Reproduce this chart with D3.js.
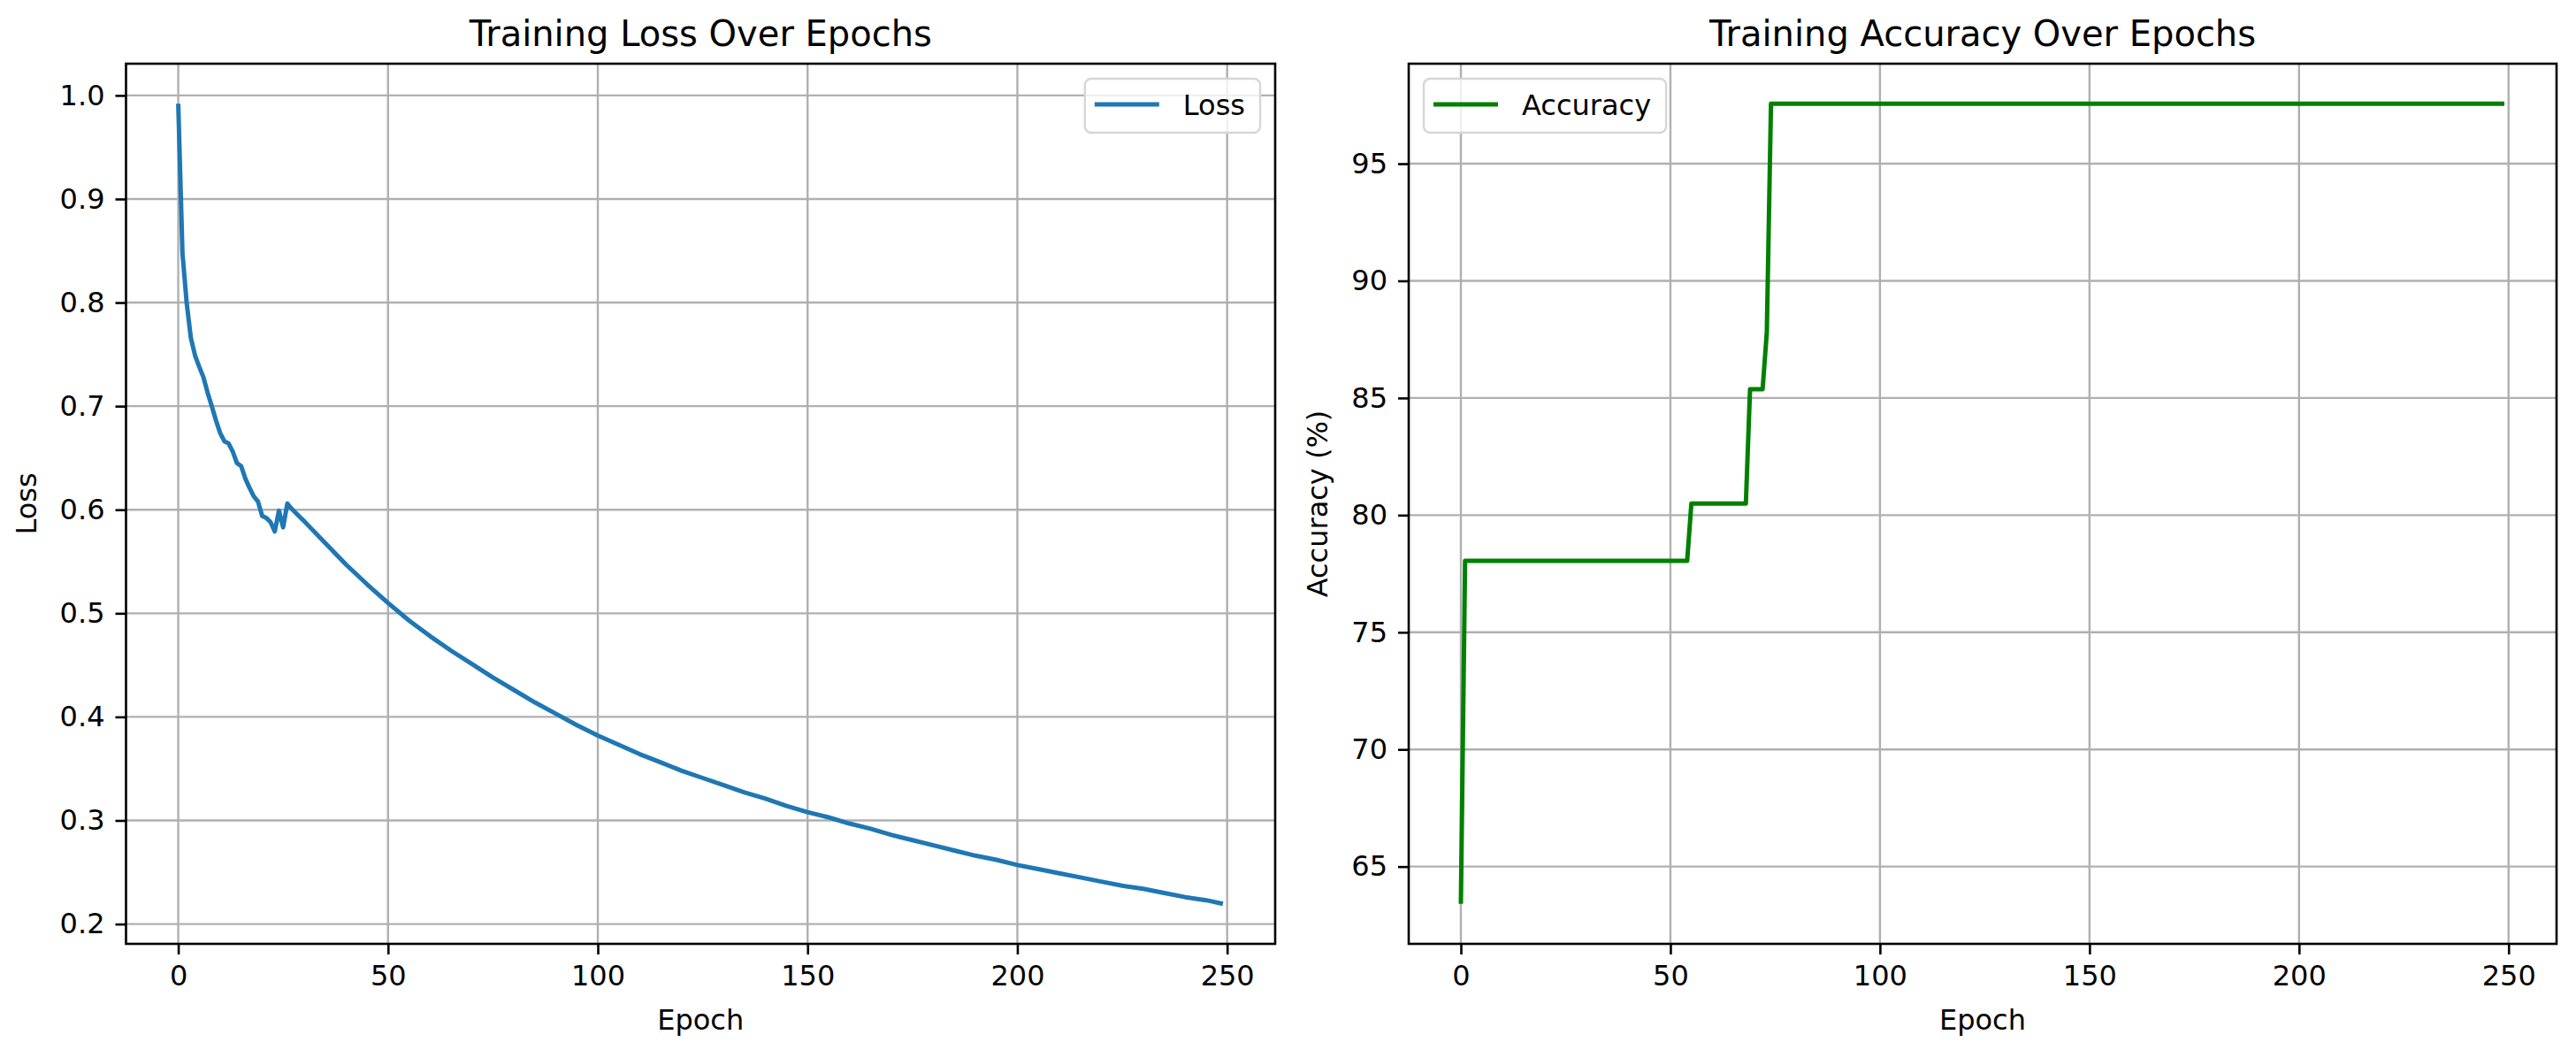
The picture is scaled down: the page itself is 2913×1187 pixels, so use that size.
<!DOCTYPE html>
<html>
<head>
<meta charset="utf-8">
<script src="https://cdn.jsdelivr.net/npm/d3@7"></script>
<style>
  body { margin: 0; background: #fff; }
  svg text { font-family: "DejaVu Sans", sans-serif; fill: #000; }
</style>
</head>
<body>
<svg id="chart" width="2913" height="1187"></svg>
<script>
// training loss (dense where the curve is noisy)
var lossEpochs = [0, 1, 2, 3, 4, 5, 6, 7, 8, 9, 10, 11, 12, 13, 14, 15, 16, 17, 18, 19, 20,
    21, 22, 23, 24, 25, 26, 27, 28, 29, 30, 35, 40, 45, 50, 55, 60, 65, 70, 75, 80, 85, 90, 95,
    100, 105, 110, 115, 120, 125, 130, 135, 140, 145, 150, 155, 160, 165, 170, 175, 180, 185,
    190, 195, 200, 205, 210, 215, 220, 225, 230, 235, 240, 245, 249];
var lossValues = [0.992, 0.848, 0.800, 0.766, 0.749, 0.738, 0.728, 0.713, 0.700, 0.686, 0.674,
    0.666, 0.664, 0.656, 0.645, 0.642, 0.630, 0.621, 0.613, 0.608, 0.594, 0.592, 0.588, 0.579,
    0.599, 0.583, 0.606, 0.601, 0.597, 0.593, 0.589, 0.568, 0.547, 0.528, 0.510, 0.493, 0.478,
    0.464, 0.451, 0.438, 0.426, 0.414, 0.403, 0.392, 0.382, 0.373, 0.364, 0.356, 0.348, 0.341,
    0.334, 0.327, 0.321, 0.314, 0.308, 0.303, 0.297, 0.292, 0.286, 0.281, 0.276, 0.271, 0.266,
    0.262, 0.257, 0.253, 0.249, 0.245, 0.241, 0.237, 0.234, 0.230, 0.226, 0.223, 0.2195];

// training accuracy, only the epochs where the step line changes
var accEpochs = [0, 1, 54, 55, 68, 69, 72, 73, 74, 249];
var accValues = [63.41, 78.05, 78.05, 80.49, 80.49, 85.37, 85.37, 87.80, 97.56, 97.56];

var epochTicks = [0, 50, 100, 150, 200, 250];
var lossTicks = [0.2, 0.3, 0.4, 0.5, 0.6, 0.7, 0.8, 0.9, 1.0];
var accTicks = [65, 70, 75, 80, 85, 90, 95];

var fontSize = 32;
var svg = d3.select("#chart");

// pad a domain by 5% on each side, like matplotlib autoscale
function padded(extent) {
    var m = (extent[1] - extent[0]) * 0.05;
    return [extent[0] - m, extent[1] + m];
}

function drawPanel(opt) {
    var x0 = opt.left, x1 = opt.right, y0 = 72, y1 = 1067;
    var g = svg.append("g");

    var x = d3.scaleLinear().domain(padded([0, 249])).range([x0, x1]);
    var y = d3.scaleLinear().domain(padded(d3.extent(opt.values))).range([y1, y0]);

    // grid
    g.append("g").selectAll("line").data(epochTicks).enter().append("line")
        .attr("x1", d => x(d)).attr("x2", d => x(d))
        .attr("y1", y0).attr("y2", y1)
        .attr("stroke", "#b0b0b0").attr("stroke-width", 2.4);
    g.append("g").selectAll("line").data(opt.yTicks).enter().append("line")
        .attr("x1", x0).attr("x2", x1)
        .attr("y1", d => y(d)).attr("y2", d => y(d))
        .attr("stroke", "#b0b0b0").attr("stroke-width", 2.4);

    // data line
    var pts = opt.epochs.map((e, i) => [e, opt.values[i]]);
    g.append("path")
        .datum(pts)
        .attr("fill", "none")
        .attr("stroke", opt.color)
        .attr("stroke-width", 5)
        .attr("stroke-linejoin", "round")
        .attr("d", d3.line().x(d => x(d[0])).y(d => y(d[1])));

    // axes
    var xAxis = d3.axisBottom(x).tickValues(epochTicks).tickSize(12).tickPadding(12).tickFormat(d3.format("d"));
    var yAxis = d3.axisLeft(y).tickValues(opt.yTicks).tickSize(12).tickPadding(12).tickFormat(d3.format(opt.fmt));

    var gx = g.append("g").attr("transform", "translate(0," + y1 + ")").call(xAxis);
    var gy = g.append("g").attr("transform", "translate(" + x0 + ",0)").call(yAxis);
    [gx, gy].forEach(a => {
        a.select(".domain").remove();
        a.selectAll(".tick line").attr("stroke", "#000").attr("stroke-width", 2.6);
        a.selectAll(".tick text").style("font-size", fontSize + "px").attr("fill", "#000");
    });

    // frame
    g.append("rect")
        .attr("x", x0).attr("y", y0)
        .attr("width", x1 - x0).attr("height", y1 - y0)
        .attr("fill", "none").attr("stroke", "#000").attr("stroke-width", 2.6);

    // title and labels
    g.append("text")
        .attr("x", (x0 + x1) / 2).attr("y", 52)
        .attr("text-anchor", "middle")
        .style("font-size", "40px")
        .text(opt.title);

    g.append("text")
        .attr("x", (x0 + x1) / 2).attr("y", 1164)
        .attr("text-anchor", "middle")
        .style("font-size", fontSize + "px")
        .text("Epoch");

    var labelW = d3.max(gy.selectAll(".tick text").nodes(), n => n.getComputedTextLength());
    var lx = x0 - 24 - labelW - 27;
    g.append("text")
        .attr("transform", "translate(" + lx + "," + ((y0 + y1) / 2) + ") rotate(-90)")
        .attr("text-anchor", "middle")
        .style("font-size", fontSize + "px")
        .text(opt.ylabel);

    // legend
    var leg = g.append("g");
    var box = leg.append("rect")
        .attr("fill", "#fff").attr("fill-opacity", 0.8)
        .attr("stroke", "#d6d6d6").attr("stroke-width", 2.4)
        .attr("rx", 7).attr("ry", 7);
    var txt = leg.append("text")
        .style("font-size", fontSize + "px")
        .text(opt.name);
    var tw = txt.node().getComputedTextLength();
    var bw = 11 + 73 + 27 + tw + 17, bh = 61;
    var bx = opt.legendLeft ? x0 + 17 : x1 - 17 - bw;
    var by = y0 + 17;
    box.attr("x", bx).attr("y", by).attr("width", bw).attr("height", bh);
    leg.append("line")
        .attr("x1", bx + 11).attr("x2", bx + 84)
        .attr("y1", by + 29).attr("y2", by + 29)
        .attr("stroke", opt.color).attr("stroke-width", 5);
    txt.attr("x", bx + 111).attr("y", by + 41);
}

drawPanel({
    left: 142.5, right: 1442,
    epochs: lossEpochs, values: lossValues, yTicks: lossTicks, fmt: ".1f",
    color: "#1f77b4", title: "Training Loss Over Epochs", ylabel: "Loss",
    name: "Loss", legendLeft: false
});

drawPanel({
    left: 1593, right: 2891,
    epochs: accEpochs, values: accValues, yTicks: accTicks, fmt: "d",
    color: "#008000", title: "Training Accuracy Over Epochs", ylabel: "Accuracy (%)",
    name: "Accuracy", legendLeft: true
});
</script>
</body>
</html>
